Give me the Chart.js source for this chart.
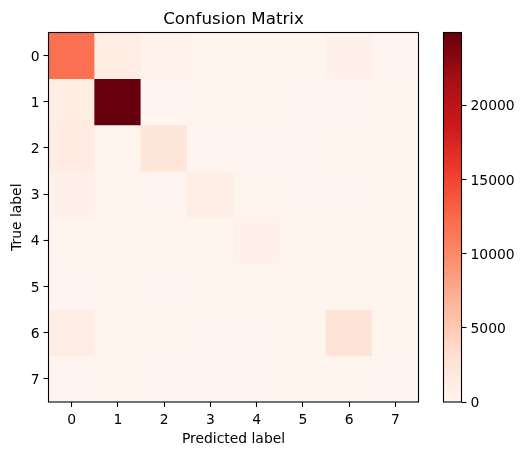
<!DOCTYPE html>
<html><head><meta charset="utf-8">
<script src="https://cdn.jsdelivr.net/npm/chart.js@4"></script>
<style>
html,body{margin:0;padding:0;background:#fff;width:524px;height:455px;overflow:hidden}
canvas{position:absolute;top:0;left:0}
</style></head><body>
<div style="position:absolute;left:0;top:0;width:430px;height:455px"><canvas id="main" width="430" height="455"></canvas></div>
<div style="position:absolute;left:430px;top:0;width:94px;height:455px"><canvas id="bar" width="94" height="455"></canvas></div>
<script>
const predictedLabels = ['0','1','2','3','4','5','6','7'];
const trueLabels = [0,1,2,3,4,5,6,7];
const row0 = [12000,1400,550,300,220,180,750,100];
const row1 = [1300,24900,100,250,180,100,130,60];
const row2 = [1450,200,2200,130,110,90,280,60];
const row3 = [650,330,90,1050,260,90,90,60];
const row4 = [180,180,230,160,720,230,260,60];
const row5 = [120,220,90,60,60,170,170,60];
const row6 = [1150,280,320,90,80,60,2500,60];
const row7 = [150,330,140,90,80,60,60,40];
const rows = [row0,row1,row2,row3,row4,row5,row6,row7];
const colorMax = 24900;
const colorbarTicks = [0,5000,10000,15000,20000];
const reds = ['#fff5f0','#fee0d2','#fcbba1','#fc9272','#fb6a4a','#ef3b2c','#cb181d','#a50f15','#67000d'];

function hex(c){return [1,3,5].map(i=>parseInt(c.substr(i,2),16));}
function cmap(v){
  const t=Math.min(1,Math.max(0,v/colorMax))*(reds.length-1);
  const i=Math.min(reds.length-2,Math.floor(t)),f=t-i;
  const a=hex(reds[i]),b=hex(reds[i+1]);
  return 'rgb('+a.map((x,k)=>Math.round(x+(b[k]-x)*f)).join(',')+')';
}
Chart.defaults.font.family='"DejaVu Sans"';
Chart.defaults.font.size=13.9;
Chart.defaults.color='#000';
Chart.defaults.animation=false;
const frame={id:'frame',
  beforeDraw(c){
    const s=c.scales.y;
    s.getLabelItems().forEach(i=>{ if(!i.options._moved){i.options.translation[1]+=1.5;i.options._moved=true;} });
  },
  afterDraw(c){
    const a=c.chartArea,x=c.ctx;
    x.save();x.strokeStyle='#000';x.lineWidth=1.1;
    x.strokeRect(a.left,a.top,a.right-a.left,a.bottom-a.top);
    x.restore();
  }};
new Chart(document.getElementById('main'),{
  type:'bar',
  data:{labels:predictedLabels,datasets:rows.map((r,i)=>({
    label:String(trueLabels[i]),
    data:r.map(()=>[trueLabels[i]-0.5,trueLabels[i]+0.5]),
    backgroundColor:r.map(v=>cmap(v)),
    borderWidth:0,inflateAmount:0.4,
    grouped:false,barPercentage:1,categoryPercentage:1
  }))},
  options:{
    responsive:false,
    layout:{padding:{left:0.5,right:11.5,top:0.5,bottom:0}},
    plugins:{legend:{display:false},tooltip:{enabled:false},
      title:{display:true,text:'Confusion Matrix',fullSize:false,color:'#000',
        font:{size:16.67,weight:'normal',lineHeight:1.2},padding:{top:9,bottom:3}}},
    scales:{
      x:{grid:{offset:false,drawOnChartArea:false,drawTicks:true,tickLength:5,tickColor:'#000',tickWidth:1.1},
        border:{display:false},
        ticks:{padding:5,maxRotation:0,autoSkip:false},
        title:{display:true,text:'Predicted label',color:'#000',padding:{top:0,bottom:7}},
        afterFit(s){s.height=53;}},
      y:{type:'linear',reverse:true,min:-0.5,max:7.5,
        grid:{drawOnChartArea:false,drawTicks:true,tickLength:5,tickColor:'#000',tickWidth:1.1},
        border:{display:false},
        afterBuildTicks(s){s.ticks=trueLabels.map(v=>({value:v}));},
        ticks:{padding:4,callback:v=>String(v)},
        title:{display:true,text:'True label',color:'#000',padding:{top:8.5,bottom:0}},
        afterFit(s){s.width=48;}}
    }
  },
  plugins:[frame]
});
new Chart(document.getElementById('bar'),{
  type:'bar',
  data:{labels:[''],datasets:[{
    data:[[0,colorMax]],
    borderWidth:0,barPercentage:1,categoryPercentage:1,
    backgroundColor(ctx){
      const a=ctx.chart.chartArea; if(!a) return reds[0];
      const g=ctx.chart.ctx.createLinearGradient(0,a.bottom,0,a.top);
      reds.forEach((c,i)=>g.addColorStop(i/(reds.length-1),c));
      return g;
    }
  }]},
  options:{
    responsive:false,
    layout:{padding:{left:13.5,right:0,top:32.5,bottom:53}},
    plugins:{legend:{display:false},tooltip:{enabled:false}},
    scales:{
      x:{display:false},
      y:{position:'right',min:0,max:colorMax,
        grid:{drawOnChartArea:false,drawTicks:true,tickLength:5,tickColor:'#000',tickWidth:1.1},
        border:{display:false},
        afterBuildTicks(s){s.ticks=colorbarTicks.map(v=>({value:v}));},
        ticks:{padding:4,callback:v=>String(v)},
        afterFit(s){s.width=62.5;}}
    }
  },
  plugins:[frame]
});
</script>
</body></html>
